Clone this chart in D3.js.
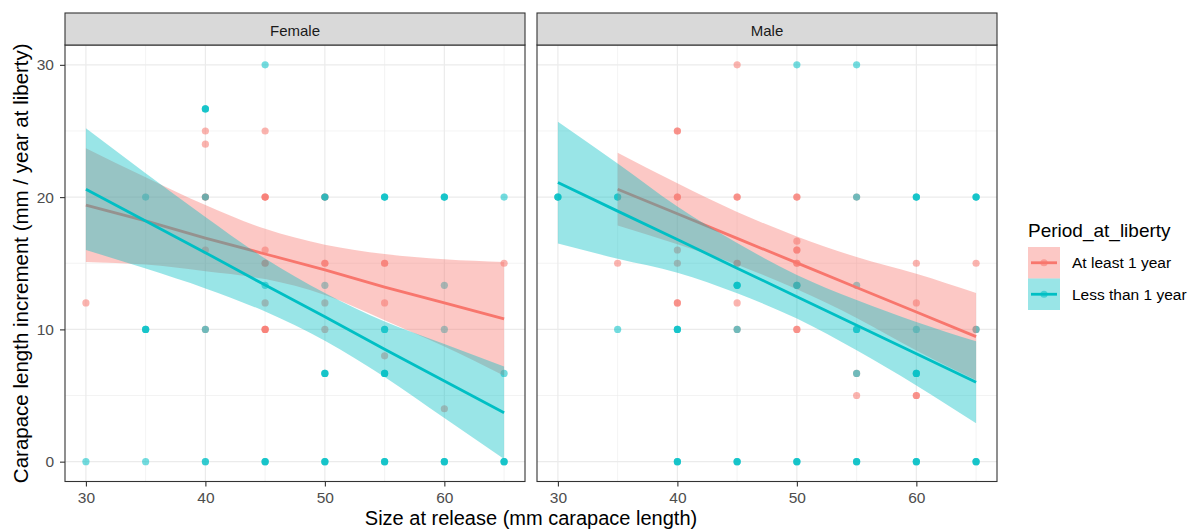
<!DOCTYPE html>
<html>
<head>
<meta charset="utf-8">
<script src="https://cdn.jsdelivr.net/npm/d3@7"></script>
<style>
  body { margin: 0; background: #fff; }
  svg { display: block; font-family: "Liberation Sans", Arial, sans-serif; }
</style>
</head>
<body>
<svg id="chart" width="1198" height="530"></svg>
<script>
// ---- data -------------------------------------------------------------
const sexes = ["Female", "Male"];
const periods = ["At least 1 year", "Less than 1 year"];
const xTicks = [30, 40, 50, 60];
const yTicks = [0, 10, 20, 30];

// observed increments: [size at release, increment, overlapping count]
const femaleAtLeastPts = [
  [30, 12, 1], [40, 25, 1], [40, 24, 1], [45, 25, 1],
  [40, 20, 2], [45, 20, 3], [50, 20, 2], [40, 16, 1], [45, 16, 1],
  [45, 15, 2], [50, 15, 2], [55, 15, 2], [65, 15, 1],
  [45, 12, 1], [50, 12, 1], [55, 12, 1],
  [40, 10, 1], [45, 10, 3], [50, 10, 1], [55, 8, 1], [60, 4, 1]
];
const femaleLessPts = [
  [45, 30, 1], [40, 26.67, 3], [35, 20, 1], [40, 20, 1], [50, 20, 2],
  [55, 20, 3], [60, 20, 3], [65, 20, 1],
  [45, 13.33, 1], [50, 13.33, 1], [60, 13.33, 1],
  [35, 10, 3], [40, 10, 1], [55, 10, 2], [60, 10, 1],
  [50, 6.67, 3], [55, 6.67, 3], [65, 6.67, 1],
  [30, 0, 1], [35, 0, 1], [40, 0, 2], [45, 0, 3], [50, 0, 3],
  [55, 0, 3], [60, 0, 3], [65, 0, 3]
];
const maleAtLeastPts = [
  [45, 30, 1], [40, 25, 2],
  [40, 20, 2], [45, 20, 2], [50, 20, 2], [55, 20, 1],
  [50, 16.67, 1], [50, 16, 2], [40, 16, 1],
  [35, 15, 1], [40, 15, 1], [45, 15, 2], [50, 15, 2], [60, 15, 1], [65, 15, 1],
  [40, 12, 2], [45, 12, 1], [60, 12, 1],
  [45, 10, 1], [50, 10, 2], [65, 10, 1],
  [55, 6.67, 1], [55, 5, 1], [60, 5, 2]
];
const maleLessPts = [
  [50, 30, 1], [55, 30, 1],
  [30, 20, 3], [35, 20, 2], [55, 20, 1], [60, 20, 3], [65, 20, 3],
  [45, 13.33, 3], [50, 13.33, 3], [55, 13.33, 1],
  [35, 10, 1], [40, 10, 3], [45, 10, 1], [55, 10, 2], [60, 10, 1], [65, 10, 1],
  [55, 6.67, 1], [60, 6.67, 3],
  [40, 0, 3], [45, 0, 3], [50, 0, 3], [55, 0, 3], [60, 0, 3], [65, 0, 3]
];

// linear smooths with confidence bands, evaluated along release size
const femaleAtLeastSizes = [30, 35, 40, 45, 50, 55, 60, 65];
const femaleAtLeastFit = [19.4, 18.2, 16.9, 15.7, 14.5, 13.2, 12.0, 10.8];
const femaleAtLeastLo  = [15.1, 14.9, 14.4, 13.8, 12.6, 10.7, 8.7, 6.5];
const femaleAtLeastHi  = [23.7, 21.5, 19.4, 17.6, 16.4, 15.7, 15.3, 15.1];

const femaleLessSizes = [30, 35, 40, 45, 50, 55, 60, 65];
const femaleLessFit = [20.6, 18.2, 15.8, 13.35, 10.95, 8.5, 6.1, 3.7];
const femaleLessLo  = [16.0, 14.6, 13.1, 11.35, 9.15, 6.4, 3.3, 0.2];
const femaleLessHi  = [25.2, 21.8, 18.5, 15.35, 12.75, 10.6, 8.9, 7.2];

const maleAtLeastSizes = [35, 40, 45, 50, 55, 60, 65];
const maleAtLeastFit = [20.6, 18.74, 16.88, 15.03, 13.17, 11.31, 9.45];
const maleAtLeastLo  = [17.85, 16.44, 14.88, 13.03, 10.87, 8.41, 6.15];
const maleAtLeastHi  = [23.35, 21.04, 18.88, 17.03, 15.47, 14.21, 12.75];

const maleLessSizes = [30, 35, 40, 45, 50, 55, 60, 65];
const maleLessFit = [21.1, 18.94, 16.79, 14.63, 12.47, 10.32, 8.16, 6.0];
const maleLessLo  = [16.5, 15.34, 14.29, 12.73, 10.82, 8.42, 5.76, 2.9];
const maleLessHi  = [25.7, 22.54, 19.29, 16.53, 14.12, 12.22, 10.56, 9.1];

// ---- layout -----------------------------------------------------------
const colors = { "At least 1 year": "#F8766D", "Less than 1 year": "#00BFC4" };
const panelTop = 45, panelBottom = 481.5, stripTop = 13;
const panelBoxes = { Female: [65, 525], Male: [537, 997] };

const sizeMin = 30, sizeMax = 65, incMin = 0, incMax = 30;
const xPad = (sizeMax - sizeMin) * 0.05, yPad = (incMax - incMin) * 0.05;
const y = d3.scaleLinear().domain([incMin - yPad, incMax + yPad]).range([panelBottom, panelTop]);

const smooths = {
  Female: {
    "At least 1 year": { xs: femaleAtLeastSizes, fit: femaleAtLeastFit, lo: femaleAtLeastLo, hi: femaleAtLeastHi, pts: femaleAtLeastPts },
    "Less than 1 year": { xs: femaleLessSizes, fit: femaleLessFit, lo: femaleLessLo, hi: femaleLessHi, pts: femaleLessPts }
  },
  Male: {
    "At least 1 year": { xs: maleAtLeastSizes, fit: maleAtLeastFit, lo: maleAtLeastLo, hi: maleAtLeastHi, pts: maleAtLeastPts },
    "Less than 1 year": { xs: maleLessSizes, fit: maleLessFit, lo: maleLessLo, hi: maleLessHi, pts: maleLessPts }
  }
};

const svg = d3.select("#chart");
const pointAlpha = 0.55, bandAlpha = 0.4, lineW = 2.8, pointR = 3.6;

sexes.forEach((sex, i) => {
  const [left, right] = panelBoxes[sex];
  const x = d3.scaleLinear().domain([sizeMin - xPad, sizeMax + xPad]).range([left, right]);
  const g = svg.append("g");

  // grid: minor then major
  const minorX = [35, 45, 55, 65], minorY = [5, 15, 25];
  g.selectAll(".mx").data(minorX).join("line")
    .attr("x1", d => x(d)).attr("x2", d => x(d))
    .attr("y1", panelTop).attr("y2", panelBottom)
    .attr("stroke", "#ebebeb").attr("stroke-width", 0.6);
  g.selectAll(".my").data(minorY).join("line")
    .attr("x1", left).attr("x2", right)
    .attr("y1", d => y(d)).attr("y2", d => y(d))
    .attr("stroke", "#ebebeb").attr("stroke-width", 0.6);
  g.selectAll(".gx").data(xTicks).join("line")
    .attr("x1", d => x(d)).attr("x2", d => x(d))
    .attr("y1", panelTop).attr("y2", panelBottom)
    .attr("stroke", "#ebebeb").attr("stroke-width", 1.2);
  g.selectAll(".gy").data(yTicks).join("line")
    .attr("x1", left).attr("x2", right)
    .attr("y1", d => y(d)).attr("y2", d => y(d))
    .attr("stroke", "#ebebeb").attr("stroke-width", 1.2);

  // points
  periods.forEach(p => {
    const pts = [];
    smooths[sex][p].pts.forEach(([sx, inc, n]) => { for (let k = 0; k < n; k++) pts.push([sx, inc]); });
    g.append("g").selectAll("circle").data(pts).join("circle")
      .attr("cx", d => x(d[0])).attr("cy", d => y(d[1])).attr("r", pointR)
      .attr("fill", colors[p]).attr("fill-opacity", pointAlpha);
  });

  // smooth bands and lines
  periods.forEach(p => {
    const s = smooths[sex][p];
    const rows = s.xs.map((v, k) => ({ x: v, fit: s.fit[k], lo: s.lo[k], hi: s.hi[k] }));
    const area = d3.area().x(d => x(d.x)).y0(d => y(d.lo)).y1(d => y(d.hi)).curve(d3.curveMonotoneX);
    const line = d3.line().x(d => x(d.x)).y(d => y(d.fit));
    g.append("path").attr("d", area(rows)).attr("fill", colors[p]).attr("fill-opacity", bandAlpha);
    g.append("path").attr("d", line(rows)).attr("fill", "none")
      .attr("stroke", colors[p]).attr("stroke-width", lineW);
  });

  // panel border
  g.append("rect").attr("x", left).attr("y", panelTop)
    .attr("width", right - left).attr("height", panelBottom - panelTop)
    .attr("fill", "none").attr("stroke", "#333").attr("stroke-width", 1.1);

  // strip
  g.append("rect").attr("x", left).attr("y", stripTop)
    .attr("width", right - left).attr("height", panelTop - stripTop)
    .attr("fill", "#d9d9d9").attr("stroke", "#333").attr("stroke-width", 1.1);
  g.append("text").attr("x", (left + right) / 2).attr("y", 35.5)
    .attr("text-anchor", "middle").attr("font-size", 15).attr("fill", "#1a1a1a").text(sex);

  // x axis
  const xa = g.append("g").attr("transform", `translate(0,${panelBottom})`)
    .call(d3.axisBottom(x).tickValues(xTicks).tickSize(5).tickPadding(5));
  xa.select(".domain").remove();
  xa.selectAll(".tick line").attr("stroke", "#333").attr("stroke-width", 1.1);
  xa.selectAll(".tick text").attr("fill", "#4d4d4d").attr("font-size", 15.5)
    .attr("font-family", "Liberation Sans, Arial, sans-serif");

  // y axis on the first panel only
  if (i === 0) {
    const ya = g.append("g").attr("transform", `translate(${left},0)`)
      .call(d3.axisLeft(y).tickValues(yTicks).tickSize(5).tickPadding(6));
    ya.select(".domain").remove();
    ya.selectAll(".tick line").attr("stroke", "#333").attr("stroke-width", 1.1);
    ya.selectAll(".tick text").attr("fill", "#4d4d4d").attr("font-size", 15.5)
      .attr("font-family", "Liberation Sans, Arial, sans-serif");
  }
});

// axis titles
svg.append("text").attr("x", (panelBoxes.Female[0] + panelBoxes.Male[1]) / 2).attr("y", 525)
  .attr("text-anchor", "middle").attr("font-size", 20).attr("fill", "#000")
  .text("Size at release (mm carapace length)");
svg.append("text")
  .attr("transform", `translate(28,${(panelTop + panelBottom) / 2}) rotate(-90)`)
  .attr("text-anchor", "middle").attr("font-size", 20.5).attr("fill", "#000")
  .text("Carapace length increment (mm / year at liberty)");

// legend
const lg = svg.append("g").attr("transform", "translate(1028,0)");
lg.append("text").attr("x", 0).attr("y", 237).attr("font-size", 19).attr("fill", "#000")
  .text("Period_at_liberty");
periods.forEach((p, k) => {
  const ky = 247 + k * 31.5;
  lg.append("rect").attr("x", 0).attr("y", ky).attr("width", 32).attr("height", 31.5)
    .attr("fill", colors[p]).attr("fill-opacity", bandAlpha);
  lg.append("line").attr("x1", 3).attr("x2", 29).attr("y1", ky + 15.75).attr("y2", ky + 15.75)
    .attr("stroke", colors[p]).attr("stroke-width", lineW);
  lg.append("circle").attr("cx", 16).attr("cy", ky + 15.75).attr("r", pointR)
    .attr("fill", colors[p]).attr("fill-opacity", pointAlpha);
  lg.append("text").attr("x", 44).attr("y", ky + 21).attr("font-size", 15.5).attr("fill", "#000")
    .text(p);
});
</script>
</body>
</html>
